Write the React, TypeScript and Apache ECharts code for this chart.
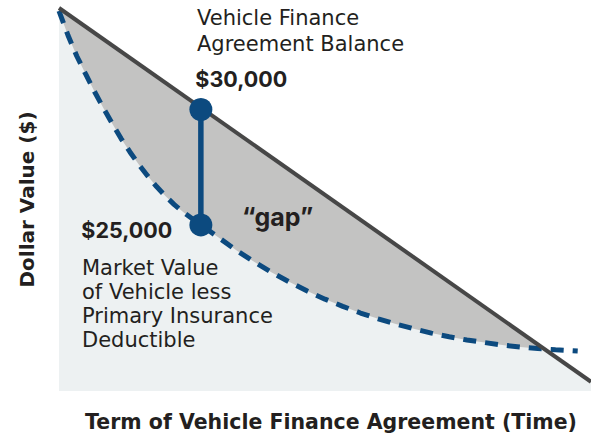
import React, { useEffect, useRef } from "react";
import * as echarts from "echarts";

// Months of the finance agreement (x) and dollar values (y)
const months = [0, 1, 2, 3, 4, 5, 6, 7, 8, 9, 10, 11, 12, 13, 14, 15, 16, 18, 20, 22, 24, 26, 28, 30, 32, 34, 36, 38, 40, 42, 44, 46, 48, 50, 52, 54, 56, 58.5];
const marketValue = [34270, 33230, 32320, 31540, 30780, 30070, 29390, 28740, 28160, 27620, 27120, 26660, 26250, 25880, 25560, 25280, 25000, 24450, 23900, 23400, 22940, 22520, 22130, 21780, 21470, 21180, 20930, 20700, 20500, 20310, 20150, 20010, 19900, 19790, 19710, 19640, 19590, 19530];
const balanceValue = [34400, 34130, 33860, 33590, 33320, 33050, 32780, 32510, 32240, 31970, 31700, 31430, 31160, 30890, 30620, 30350, 30080, 29540, 29000, 28460, 27920, 27380, 26840, 26300, 25760, 25220, 24680, 24140, 23600, 23060, 22520, 21980, 21440, 20900, 20360, 19820, 19280, 18610];
const balanceLineMonths = [0, 60];
const balanceLineValues = [34400, 18200];
const gapMonth = 16;
const gapValues = [30000, 25000];

const xAxisTitle = "Term of Vehicle Finance Agreement (Time)";
const yAxisTitle = "Dollar Value ($)";
const balanceLabel = "Vehicle Finance\nAgreement Balance";
const marketLabel = "Market Value\nof Vehicle less\nPrimary Insurance\nDeductible";
const gapLabel = "\u201Cgap\u201D";

const NAVY = "#0c4a7f";
const DARK = "#474747";
const LIGHT = "#edf1f2";
const GREY = "#c3c3c2";
const TEXT = "#231f20";
const WIDE = "'DejaVu Sans', sans-serif";
const NUM = "Inter, 'Open Sans', sans-serif";

export default function App() {
  const ref = useRef<HTMLDivElement>(null);
  useEffect(() => {
    const chart = echarts.init(ref.current!, null, { renderer: "svg" });
    const balancePairs = balanceLineMonths.map((m, i) => [m, balanceLineValues[i]]);
    const curvePairs = months.map((m, i) => [m, marketValue[i]]);
    const gapRows = months.map((m, i) => [m, marketValue[i], balanceValue[i]]);
    const fmt = (v: number) => "$" + v.toLocaleString("en-US");

    const labelStyle = (pos: number[]) => ({
      show: true,
      position: pos,
      align: "left",
      verticalAlign: "middle",
      formatter: (p: any) => fmt(p.value[1]),
      fontFamily: NUM,
      fontWeight: "bold",
      fontSize: 21.5,
      color: TEXT,
    });

    const option: any = {
      animation: false,
      backgroundColor: "#ffffff",
      grid: { left: 59, right: 0, top: 8, bottom: 43, outerBoundsMode: "none", containLabel: false },
      xAxis: {
        type: "value",
        min: 0,
        max: 60,
        axisLine: { show: false },
        axisTick: { show: false },
        axisLabel: { show: false },
        splitLine: { show: false },
        name: xAxisTitle,
        nameLocation: "middle",
        nameGap: 20,
        nameTextStyle: { fontFamily: WIDE, fontWeight: "bold", fontSize: 20.5, color: TEXT, padding: [0, 0, 0, 12] },
      },
      yAxis: {
        type: "value",
        min: 17800,
        max: 34400,
        axisLine: { show: false },
        axisTick: { show: false },
        axisLabel: { show: false },
        splitLine: { show: false },
        name: yAxisTitle,
        nameLocation: "middle",
        nameGap: 22,
        nameTextStyle: { fontFamily: WIDE, fontWeight: "bold", fontSize: 20, color: TEXT },
      },
      series: [
        {
          type: "line",
          data: balancePairs,
          symbol: "none",
          lineStyle: { width: 0 },
          areaStyle: { color: LIGHT, origin: "start", opacity: 1 },
          z: 1,
          silent: true,
        },
        {
          type: "custom",
          data: gapRows,
          encode: { x: 0, y: 1 },
          z: 2,
          silent: true,
          renderItem: (params: any, api: any) => {
            if (params.dataIndex !== 0) return null;
            const top = months.map((m, i) => api.coord([m, balanceValue[i]]));
            const bottom = months.map((m, i) => api.coord([m, marketValue[i]])).reverse();
            return {
              type: "polygon",
              shape: { points: top.concat(bottom) },
              style: { fill: GREY },
              silent: true,
            };
          },
        },
        {
          type: "line",
          data: balancePairs,
          symbol: "none",
          lineStyle: { width: 0 },
          areaStyle: { color: "#ffffff", origin: "end", opacity: 1 },
          z: 3,
          silent: true,
        },
        {
          type: "line",
          data: curvePairs,
          symbol: "none",
          clip: false,
          lineStyle: { color: NAVY, width: 5, type: [13, 9] },
          z: 4,
          silent: true,
        },
        {
          type: "line",
          data: balancePairs,
          symbol: "none",
          clip: false,
          lineStyle: { color: DARK, width: 4 },
          z: 5,
          silent: true,
        },
        {
          type: "line",
          clip: false,
          symbol: "circle",
          symbolSize: 23,
          showSymbol: true,
          lineStyle: { color: NAVY, width: 5.5 },
          itemStyle: { color: NAVY },
          z: 6,
          silent: true,
          data: [
            { value: [gapMonth, gapValues[0]], label: labelStyle([6, -19]) },
            { value: [gapMonth, gapValues[1]], label: labelStyle([-108, 17]) },
          ],
        },
      ],
      graphic: [
        {
          type: "text",
          x: 197,
          y: 5,
          z: 10,
          style: {
            text: balanceLabel,
            fontFamily: WIDE,
            fontSize: 21,
            lineHeight: 26,
            fill: TEXT,
            textAlign: "left",
            textVerticalAlign: "top",
            align: "left",
            verticalAlign: "top",
          },
        },
        {
          type: "text",
          x: 82,
          y: 256,
          z: 10,
          style: {
            text: marketLabel,
            fontFamily: WIDE,
            fontSize: 21,
            lineHeight: 24,
            fill: TEXT,
            textAlign: "left",
            textVerticalAlign: "top",
            align: "left",
            verticalAlign: "top",
          },
        },
        {
          type: "text",
          x: 242,
          y: 217,
          z: 10,
          style: {
            text: gapLabel,
            fontFamily: NUM,
            fontSize: 25,
            fontWeight: "bold",
            fill: TEXT,
            textAlign: "left",
            textVerticalAlign: "middle",
            align: "left",
            verticalAlign: "middle",
          },
        },
      ],
    };
    chart.setOption(option);
    return () => chart.dispose();
  }, []);
  return (
    <div
      ref={ref}
      style={{ position: "fixed", left: 0, top: 0, width: 591, height: 434, background: "#fff" }}
    />
  );
}
